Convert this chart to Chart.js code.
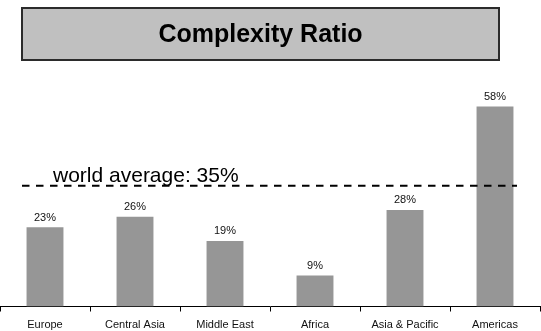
<!DOCTYPE html>
<html>
<head>
<meta charset="utf-8">
<style>
  html, body { margin: 0; padding: 0; background: #ffffff; }
  canvas { display: block; }
</style>
<script src="https://cdn.jsdelivr.net/npm/chart.js@4"></script>
</head>
<body>
<canvas id="chart" width="541" height="331"></canvas>
<script>
const chartTitle = 'Complexity Ratio';
const regions = ['Europe', 'Central Asia', 'Middle East', 'Africa', 'Asia & Pacific', 'Americas'];
const complexityRatio = [23, 26, 19, 9, 28, 58];
const worldAverage = 35;
const worldAverageLabel = 'world average: 35%';

const FONT = '"Liberation Sans", Arial, sans-serif';

// Grey banner with the chart title
const titleBanner = {
  id: 'titleBanner',
  beforeDraw(chart) {
    const ctx = chart.ctx;
    const x = 22, y = 8, w = 477, h = 52;
    ctx.save();
    ctx.fillStyle = '#c0c0c0';
    ctx.fillRect(x, y, w, h);
    ctx.strokeStyle = '#2b2b2b';
    ctx.lineWidth = 2;
    ctx.strokeRect(x, y, w, h);
    ctx.fillStyle = '#000000';
    ctx.font = 'bold 25px ' + FONT;
    ctx.textAlign = 'center';
    ctx.textBaseline = 'middle';
    ctx.fillText(chartTitle, x + w / 2, y + h / 2 + 1);
    ctx.restore();
  }
};

// Percentage labels above each bar
const valueLabels = {
  id: 'valueLabels',
  afterDatasetsDraw(chart) {
    const ctx = chart.ctx;
    const meta = chart.getDatasetMeta(0);
    ctx.save();
    ctx.fillStyle = '#111111';
    ctx.font = '11px ' + FONT;
    ctx.textAlign = 'center';
    ctx.textBaseline = 'bottom';
    meta.data.forEach((bar, i) => {
      ctx.fillText(complexityRatio[i] + '%', bar.x, bar.y - 4);
    });
    ctx.restore();
  }
};

// Dashed reference line for the world average
const averageLine = {
  id: 'averageLine',
  afterDatasetsDraw(chart) {
    const ctx = chart.ctx;
    const yPix = chart.scales.y.getPixelForValue(worldAverage);
    ctx.save();
    ctx.strokeStyle = '#000000';
    ctx.lineWidth = 2;
    ctx.setLineDash([7.5, 6.5]);
    ctx.beginPath();
    ctx.moveTo(22, yPix);
    ctx.lineTo(517, yPix);
    ctx.stroke();
    ctx.setLineDash([]);
    ctx.fillStyle = '#000000';
    ctx.font = '21px ' + FONT;
    ctx.textAlign = 'left';
    ctx.textBaseline = 'alphabetic';
    ctx.fillText(worldAverageLabel, 53, yPix - 4);
    ctx.restore();
  }
};

new Chart(document.getElementById('chart'), {
  type: 'bar',
  data: {
    labels: regions,
    datasets: [{
      data: complexityRatio,
      backgroundColor: '#969696',
      borderWidth: 0,
      categoryPercentage: 1,
      barPercentage: 0.41
    }]
  },
  options: {
    responsive: false,
    animation: false,
    devicePixelRatio: 1,
    layout: { padding: { top: 65, right: 1, bottom: -7.5, left: 0 } },
    plugins: {
      legend: { display: false },
      tooltip: { enabled: false },
      title: { display: false }
    },
    scales: {
      x: {
        grid: {
          offset: true,
          drawOnChartArea: false,
          drawTicks: true,
          tickLength: 5,
          color: '#000000',
          lineWidth: 1
        },
        border: { display: true, color: '#000000', width: 1 },
        ticks: {
          color: '#111111',
          font: { family: FONT, size: 11, lineHeight: 1 },
          padding: 8,
          maxRotation: 0,
          autoSkip: false
        }
      },
      y: {
        display: false,
        min: 0,
        max: 70
      }
    }
  },
  plugins: [titleBanner, valueLabels, averageLine]
});
</script>
</body>
</html>
